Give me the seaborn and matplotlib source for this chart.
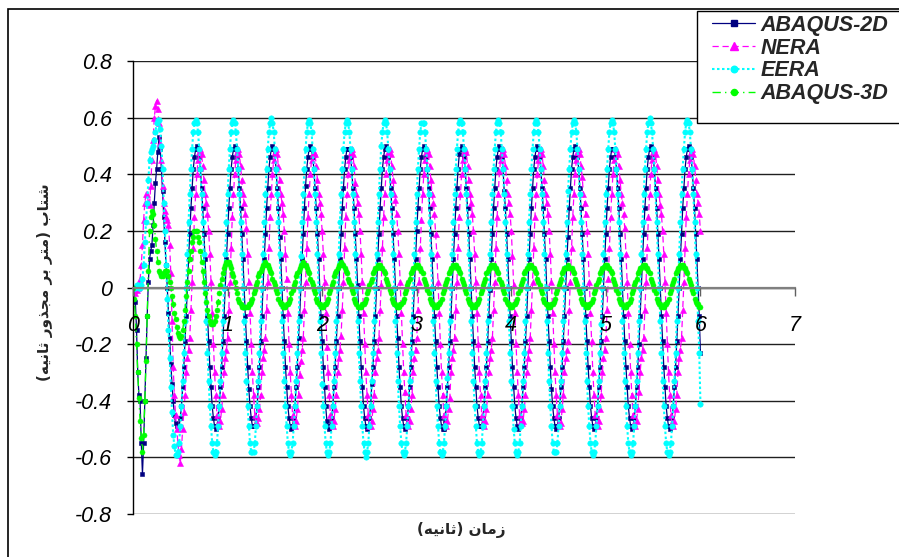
import numpy as np
import matplotlib
matplotlib.use("Agg")
import matplotlib.pyplot as plt
import seaborn as sns
from matplotlib.patches import Rectangle
from matplotlib.lines import Line2D
from matplotlib.font_manager import FontProperties

# ---------------- data ----------------
# sample times (s): 0 .. 6.0 s, step 0.0125 s
time_s = np.round(np.arange(481) * 0.0125, 4)

abaqus_2d = [
    0.00, -0.02, -0.05, -0.15, -0.30, -0.38, -0.40, -0.55, -0.66, -0.55, -0.40, -0.25, -0.10, 0.02, 0.10, 0.13,
    0.15, 0.22, 0.30, 0.37, 0.42, 0.48, 0.53, 0.49, 0.42, 0.34, 0.25, 0.16, 0.08, 0.00, -0.09, -0.18,
    -0.27, -0.34, -0.40, -0.45, -0.48, -0.49, -0.50, -0.49, -0.46, -0.42, -0.35, -0.28, -0.19, -0.10, 0.00, 0.10,
    0.19, 0.28, 0.35, 0.42, 0.46, 0.49, 0.50, 0.49, 0.46, 0.42, 0.35, 0.28, 0.19, 0.10, 0.00, -0.10,
    -0.19, -0.28, -0.35, -0.42, -0.46, -0.49, -0.50, -0.49, -0.46, -0.42, -0.35, -0.28, -0.19, -0.10, 0.00, 0.10,
    0.19, 0.28, 0.35, 0.42, 0.46, 0.49, 0.50, 0.49, 0.46, 0.42, 0.35, 0.28, 0.19, 0.10, 0.00, -0.10,
    -0.19, -0.28, -0.36, -0.42, -0.46, -0.49, -0.49, -0.49, -0.46, -0.42, -0.35, -0.28, -0.19, -0.10, 0.00, 0.10,
    0.19, 0.28, 0.35, 0.42, 0.46, 0.49, 0.50, 0.49, 0.47, 0.42, 0.35, 0.28, 0.18, 0.10, 0.00, -0.10,
    -0.19, -0.28, -0.35, -0.42, -0.46, -0.49, -0.50, -0.49, -0.46, -0.42, -0.35, -0.28, -0.18, -0.10, 0.00, 0.10,
    0.19, 0.28, 0.36, 0.42, 0.46, 0.49, 0.50, 0.49, 0.46, 0.42, 0.35, 0.28, 0.19, 0.10, 0.00, -0.10,
    -0.19, -0.28, -0.35, -0.42, -0.47, -0.49, -0.50, -0.49, -0.46, -0.42, -0.35, -0.28, -0.19, -0.10, 0.00, 0.10,
    0.19, 0.28, 0.35, 0.42, 0.46, 0.49, 0.49, 0.49, 0.46, 0.42, 0.35, 0.28, 0.19, 0.10, 0.01, -0.10,
    -0.19, -0.28, -0.35, -0.42, -0.46, -0.49, -0.50, -0.49, -0.46, -0.42, -0.34, -0.28, -0.19, -0.10, 0.00, 0.10,
    0.19, 0.28, 0.35, 0.42, 0.46, 0.49, 0.50, 0.49, 0.46, 0.42, 0.35, 0.28, 0.19, 0.10, 0.00, -0.10,
    -0.18, -0.28, -0.35, -0.42, -0.46, -0.49, -0.50, -0.49, -0.46, -0.42, -0.35, -0.28, -0.19, -0.10, 0.00, 0.10,
    0.20, 0.28, 0.35, 0.42, 0.46, 0.49, 0.50, 0.49, 0.46, 0.42, 0.35, 0.28, 0.19, 0.10, 0.00, -0.10,
    -0.19, -0.28, -0.35, -0.42, -0.46, -0.49, -0.50, -0.50, -0.47, -0.42, -0.35, -0.28, -0.19, -0.10, 0.00, 0.10,
    0.19, 0.28, 0.35, 0.42, 0.47, 0.49, 0.50, 0.49, 0.46, 0.42, 0.35, 0.28, 0.19, 0.10, 0.00, -0.10,
    -0.19, -0.28, -0.35, -0.42, -0.46, -0.49, -0.49, -0.49, -0.46, -0.42, -0.35, -0.28, -0.19, -0.10, -0.01, 0.10,
    0.19, 0.28, 0.35, 0.42, 0.46, 0.49, 0.50, 0.49, 0.46, 0.42, 0.34, 0.28, 0.19, 0.10, 0.00, -0.10,
    -0.19, -0.28, -0.35, -0.42, -0.46, -0.49, -0.50, -0.49, -0.46, -0.42, -0.35, -0.28, -0.19, -0.10, 0.00, 0.10,
    0.19, 0.28, 0.35, 0.42, 0.46, 0.49, 0.50, 0.49, 0.46, 0.42, 0.35, 0.28, 0.19, 0.10, 0.00, -0.10,
    -0.19, -0.28, -0.36, -0.42, -0.46, -0.49, -0.50, -0.49, -0.46, -0.42, -0.35, -0.28, -0.19, -0.10, 0.00, 0.10,
    0.18, 0.28, 0.35, 0.42, 0.46, 0.49, 0.50, 0.49, 0.46, 0.42, 0.35, 0.28, 0.19, 0.10, 0.00, -0.10,
    -0.19, -0.28, -0.35, -0.42, -0.46, -0.49, -0.50, -0.49, -0.46, -0.42, -0.35, -0.28, -0.19, -0.10, 0.00, 0.10,
    0.19, 0.28, 0.35, 0.42, 0.46, 0.49, 0.49, 0.49, 0.46, 0.42, 0.35, 0.28, 0.19, 0.10, 0.00, -0.10,
    -0.19, -0.28, -0.35, -0.42, -0.46, -0.49, -0.50, -0.49, -0.46, -0.42, -0.35, -0.28, -0.20, -0.10, 0.00, 0.10,
    0.19, 0.28, 0.35, 0.42, 0.46, 0.49, 0.50, 0.49, 0.46, 0.42, 0.35, 0.28, 0.19, 0.10, 0.00, -0.10,
    -0.19, -0.28, -0.35, -0.42, -0.46, -0.49, -0.50, -0.49, -0.46, -0.42, -0.35, -0.28, -0.19, -0.10, 0.00, 0.10,
    0.19, 0.28, 0.35, 0.42, 0.46, 0.49, 0.50, 0.49, 0.46, 0.42, 0.35, 0.28, 0.19, 0.10, 0.00, -0.10,
    -0.23,
]

nera = [
    0.00, -0.01, -0.02, -0.01, 0.00, 0.01, 0.03, 0.08, 0.15, 0.24, 0.30, 0.33, 0.33, 0.30, 0.29, 0.36,
    0.45, 0.52, 0.60, 0.64, 0.66, 0.63, 0.58, 0.51, 0.45, 0.36, 0.30, 0.27, 0.25, 0.24, 0.22, 0.15,
    0.05, -0.12, -0.28, -0.38, -0.45, -0.50, -0.55, -0.59, -0.62, -0.57, -0.50, -0.44, -0.38, -0.30, -0.25, -0.22,
    -0.18, -0.08, 0.02, 0.14, 0.25, 0.33, 0.40, 0.45, 0.48, 0.49, 0.47, 0.43, 0.38, 0.33, 0.30, 0.26,
    0.20, 0.12, 0.02, -0.09, -0.20, -0.30, -0.38, -0.45, -0.48, -0.49, -0.47, -0.43, -0.38, -0.30, -0.25, -0.22,
    -0.18, -0.08, 0.02, 0.14, 0.25, 0.33, 0.40, 0.45, 0.48, 0.49, 0.47, 0.43, 0.38, 0.33, 0.30, 0.26,
    0.21, 0.12, 0.02, -0.09, -0.20, -0.30, -0.38, -0.45, -0.48, -0.48, -0.46, -0.43, -0.38, -0.30, -0.25, -0.22,
    -0.18, -0.08, 0.02, 0.14, 0.25, 0.33, 0.40, 0.45, 0.48, 0.49, 0.47, 0.43, 0.38, 0.33, 0.30, 0.26,
    0.20, 0.12, 0.03, -0.09, -0.20, -0.30, -0.38, -0.45, -0.48, -0.49, -0.47, -0.43, -0.38, -0.31, -0.26, -0.22,
    -0.18, -0.08, 0.02, 0.14, 0.25, 0.33, 0.40, 0.45, 0.47, 0.48, 0.47, 0.43, 0.38, 0.33, 0.30, 0.26,
    0.20, 0.12, 0.02, -0.09, -0.21, -0.30, -0.38, -0.45, -0.48, -0.49, -0.47, -0.43, -0.38, -0.30, -0.25, -0.22,
    -0.17, -0.08, 0.02, 0.14, 0.25, 0.33, 0.40, 0.45, 0.48, 0.49, 0.47, 0.43, 0.37, 0.33, 0.30, 0.26,
    0.20, 0.12, 0.02, -0.09, -0.20, -0.30, -0.38, -0.45, -0.49, -0.49, -0.47, -0.43, -0.38, -0.30, -0.25, -0.22,
    -0.18, -0.08, 0.01, 0.14, 0.25, 0.33, 0.40, 0.45, 0.48, 0.49, 0.47, 0.43, 0.38, 0.33, 0.31, 0.26,
    0.20, 0.12, 0.02, -0.09, -0.20, -0.30, -0.37, -0.45, -0.48, -0.49, -0.47, -0.43, -0.38, -0.30, -0.25, -0.22,
    -0.18, -0.08, 0.02, 0.14, 0.24, 0.33, 0.40, 0.45, 0.48, 0.49, 0.47, 0.43, 0.38, 0.33, 0.30, 0.26,
    0.19, 0.12, 0.02, -0.09, -0.20, -0.30, -0.38, -0.45, -0.48, -0.49, -0.47, -0.43, -0.39, -0.30, -0.25, -0.22,
    -0.18, -0.08, 0.02, 0.14, 0.25, 0.33, 0.40, 0.45, 0.48, 0.49, 0.48, 0.43, 0.38, 0.33, 0.30, 0.26,
    0.20, 0.12, 0.02, -0.09, -0.20, -0.30, -0.38, -0.45, -0.48, -0.49, -0.47, -0.43, -0.38, -0.30, -0.25, -0.22,
    -0.18, -0.08, 0.02, 0.14, 0.25, 0.33, 0.41, 0.45, 0.48, 0.49, 0.47, 0.43, 0.38, 0.33, 0.30, 0.26,
    0.20, 0.11, 0.01, -0.09, -0.20, -0.30, -0.38, -0.45, -0.47, -0.48, -0.47, -0.43, -0.38, -0.30, -0.25, -0.22,
    -0.18, -0.08, 0.02, 0.14, 0.25, 0.33, 0.40, 0.45, 0.48, 0.49, 0.47, 0.43, 0.38, 0.33, 0.30, 0.26,
    0.20, 0.12, 0.02, -0.09, -0.20, -0.30, -0.38, -0.45, -0.48, -0.49, -0.48, -0.43, -0.38, -0.30, -0.25, -0.22,
    -0.19, -0.08, 0.02, 0.14, 0.25, 0.33, 0.40, 0.45, 0.48, 0.49, 0.47, 0.43, 0.39, 0.33, 0.30, 0.26,
    0.20, 0.12, 0.02, -0.09, -0.19, -0.30, -0.38, -0.45, -0.48, -0.49, -0.47, -0.43, -0.38, -0.30, -0.25, -0.22,
    -0.18, -0.08, 0.03, 0.14, 0.25, 0.33, 0.40, 0.45, 0.49, 0.49, 0.47, 0.43, 0.38, 0.33, 0.30, 0.26,
    0.21, 0.12, 0.02, -0.09, -0.20, -0.30, -0.38, -0.45, -0.48, -0.49, -0.47, -0.43, -0.37, -0.30, -0.25, -0.22,
    -0.18, -0.08, 0.02, 0.14, 0.25, 0.33, 0.40, 0.45, 0.48, 0.49, 0.47, 0.43, 0.38, 0.33, 0.29, 0.26,
    0.20, 0.12, 0.02, -0.09, -0.20, -0.30, -0.38, -0.45, -0.48, -0.49, -0.47, -0.43, -0.38, -0.30, -0.25, -0.22,
    -0.18, -0.08, 0.02, 0.14, 0.25, 0.33, 0.40, 0.45, 0.48, 0.49, 0.47, 0.43, 0.38, 0.33, 0.30, 0.26,
    0.20,
]

eera = [
    0.00, 0.00, 0.00, 0.01, 0.01, 0.00, 0.00, 0.01, 0.03, 0.08, 0.16, 0.23, 0.30, 0.38, 0.45, 0.48,
    0.49, 0.50, 0.52, 0.55, 0.58, 0.59, 0.59, 0.56, 0.50, 0.42, 0.30, 0.20, 0.08, -0.04, -0.15, -0.25,
    -0.35, -0.44, -0.52, -0.56, -0.59, -0.59, -0.58, -0.55, -0.49, -0.42, -0.33, -0.23, -0.12, 0.00, 0.12, 0.23,
    0.33, 0.42, 0.49, 0.55, 0.58, 0.59, 0.58, 0.55, 0.49, 0.42, 0.33, 0.23, 0.12, 0.00, -0.12, -0.23,
    -0.33, -0.42, -0.49, -0.55, -0.58, -0.59, -0.58, -0.55, -0.49, -0.42, -0.33, -0.23, -0.12, 0.00, 0.12, 0.23,
    0.33, 0.42, 0.49, 0.55, 0.58, 0.59, 0.58, 0.55, 0.49, 0.42, 0.33, 0.23, 0.12, 0.00, -0.12, -0.23,
    -0.33, -0.42, -0.49, -0.55, -0.58, -0.58, -0.58, -0.55, -0.49, -0.42, -0.33, -0.23, -0.12, 0.00, 0.12, 0.23,
    0.33, 0.42, 0.49, 0.55, 0.58, 0.60, 0.58, 0.55, 0.49, 0.42, 0.33, 0.23, 0.12, 0.00, -0.12, -0.23,
    -0.33, -0.42, -0.49, -0.55, -0.58, -0.59, -0.58, -0.55, -0.49, -0.42, -0.33, -0.23, -0.12, 0.00, 0.11, 0.23,
    0.33, 0.42, 0.49, 0.55, 0.58, 0.59, 0.58, 0.55, 0.49, 0.42, 0.33, 0.23, 0.12, 0.00, -0.12, -0.23,
    -0.34, -0.42, -0.49, -0.55, -0.58, -0.59, -0.58, -0.55, -0.49, -0.42, -0.33, -0.23, -0.12, 0.00, 0.12, 0.23,
    0.33, 0.42, 0.49, 0.55, 0.58, 0.59, 0.58, 0.55, 0.49, 0.42, 0.33, 0.23, 0.12, 0.00, -0.12, -0.23,
    -0.33, -0.42, -0.49, -0.55, -0.58, -0.60, -0.58, -0.55, -0.49, -0.42, -0.33, -0.23, -0.12, 0.00, 0.12, 0.23,
    0.33, 0.42, 0.50, 0.55, 0.58, 0.59, 0.58, 0.55, 0.49, 0.42, 0.33, 0.23, 0.12, 0.00, -0.12, -0.23,
    -0.33, -0.42, -0.49, -0.55, -0.58, -0.59, -0.58, -0.55, -0.49, -0.42, -0.33, -0.23, -0.12, 0.00, 0.12, 0.23,
    0.33, 0.42, 0.49, 0.55, 0.58, 0.58, 0.58, 0.55, 0.49, 0.42, 0.33, 0.23, 0.12, 0.00, -0.12, -0.23,
    -0.33, -0.42, -0.49, -0.55, -0.58, -0.59, -0.58, -0.55, -0.49, -0.42, -0.32, -0.23, -0.12, 0.00, 0.12, 0.23,
    0.33, 0.42, 0.49, 0.55, 0.58, 0.59, 0.58, 0.55, 0.49, 0.42, 0.33, 0.23, 0.12, 0.00, -0.12, -0.23,
    -0.33, -0.42, -0.49, -0.55, -0.58, -0.59, -0.58, -0.55, -0.49, -0.42, -0.33, -0.23, -0.12, 0.00, 0.12, 0.23,
    0.33, 0.42, 0.49, 0.55, 0.58, 0.59, 0.58, 0.55, 0.49, 0.42, 0.33, 0.23, 0.12, 0.00, -0.12, -0.23,
    -0.33, -0.42, -0.50, -0.55, -0.58, -0.59, -0.58, -0.55, -0.49, -0.42, -0.33, -0.23, -0.12, 0.00, 0.12, 0.23,
    0.33, 0.42, 0.49, 0.55, 0.58, 0.59, 0.58, 0.55, 0.49, 0.42, 0.33, 0.23, 0.12, 0.00, -0.12, -0.23,
    -0.33, -0.42, -0.49, -0.55, -0.58, -0.58, -0.58, -0.55, -0.49, -0.42, -0.33, -0.23, -0.12, 0.00, 0.12, 0.23,
    0.34, 0.42, 0.49, 0.55, 0.58, 0.59, 0.58, 0.55, 0.49, 0.42, 0.33, 0.23, 0.12, 0.00, -0.12, -0.23,
    -0.33, -0.42, -0.49, -0.55, -0.58, -0.59, -0.58, -0.55, -0.49, -0.42, -0.33, -0.23, -0.13, 0.00, 0.12, 0.23,
    0.33, 0.42, 0.49, 0.55, 0.58, 0.59, 0.58, 0.55, 0.49, 0.42, 0.33, 0.23, 0.12, 0.00, -0.12, -0.23,
    -0.33, -0.42, -0.49, -0.55, -0.58, -0.59, -0.58, -0.55, -0.49, -0.42, -0.33, -0.23, -0.12, 0.00, 0.12, 0.23,
    0.33, 0.42, 0.49, 0.55, 0.58, 0.60, 0.58, 0.55, 0.49, 0.42, 0.33, 0.23, 0.12, 0.00, -0.12, -0.23,
    -0.33, -0.42, -0.49, -0.55, -0.58, -0.59, -0.58, -0.55, -0.49, -0.42, -0.33, -0.23, -0.12, 0.00, 0.12, 0.23,
    0.33, 0.42, 0.49, 0.55, 0.58, 0.59, 0.58, 0.55, 0.49, 0.42, 0.33, 0.23, 0.12, 0.00, -0.12, -0.23,
    -0.41,
]

abaqus_3d = [
    0.00, -0.04, -0.10, -0.20, -0.30, -0.39, -0.47, -0.53, -0.58, -0.52, -0.40, -0.26, -0.10, 0.06, 0.20, 0.25,
    0.27, 0.26, 0.22, 0.17, 0.13, 0.09, 0.06, 0.05, 0.04, 0.04, 0.05, 0.06, 0.06, 0.06, 0.04, 0.02,
    0.00, -0.03, -0.06, -0.09, -0.11, -0.14, -0.16, -0.17, -0.18, -0.17, -0.15, -0.12, -0.08, -0.03, 0.02, 0.06,
    0.10, 0.13, 0.16, 0.18, 0.20, 0.20, 0.20, 0.18, 0.16, 0.13, 0.09, 0.06, 0.02, -0.02, -0.05, -0.08,
    -0.10, -0.12, -0.13, -0.13, -0.13, -0.12, -0.10, -0.08, -0.05, -0.02, 0.01, 0.03, 0.05, 0.07, 0.08, 0.09,
    0.09, 0.09, 0.08, 0.07, 0.05, 0.04, 0.02, 0.00, -0.02, -0.04, -0.05, -0.06, -0.07, -0.07, -0.07, -0.07,
    -0.07, -0.07, -0.06, -0.06, -0.05, -0.04, -0.02, -0.01, 0.01, 0.02, 0.04, 0.05, 0.06, 0.07, 0.08, 0.08,
    0.09, 0.08, 0.08, 0.07, 0.06, 0.05, 0.03, 0.02, 0.01, -0.01, -0.02, -0.04, -0.05, -0.06, -0.06, -0.07,
    -0.07, -0.07, -0.06, -0.06, -0.05, -0.04, -0.02, -0.01, 0.01, 0.02, 0.04, 0.05, 0.06, 0.07, 0.08, 0.08,
    0.09, 0.08, 0.08, 0.07, 0.06, 0.05, 0.03, 0.02, 0.01, -0.01, -0.02, -0.04, -0.05, -0.06, -0.06, -0.07,
    -0.07, -0.07, -0.06, -0.06, -0.05, -0.04, -0.02, -0.01, 0.01, 0.02, 0.04, 0.05, 0.06, 0.07, 0.08, 0.08,
    0.09, 0.08, 0.08, 0.07, 0.06, 0.05, 0.03, 0.02, 0.01, -0.01, -0.02, -0.04, -0.05, -0.06, -0.07, -0.07,
    -0.07, -0.07, -0.06, -0.06, -0.05, -0.04, -0.02, -0.01, 0.01, 0.02, 0.03, 0.05, 0.06, 0.07, 0.07, 0.08,
    0.08, 0.08, 0.07, 0.07, 0.06, 0.05, 0.03, 0.02, 0.01, -0.01, -0.02, -0.04, -0.05, -0.06, -0.06, -0.07,
    -0.07, -0.07, -0.06, -0.06, -0.05, -0.04, -0.02, -0.01, 0.01, 0.02, 0.03, 0.05, 0.06, 0.07, 0.07, 0.08,
    0.08, 0.08, 0.07, 0.07, 0.06, 0.05, 0.03, 0.02, 0.01, -0.01, -0.02, -0.04, -0.05, -0.06, -0.06, -0.07,
    -0.07, -0.07, -0.06, -0.06, -0.05, -0.04, -0.02, -0.01, 0.01, 0.02, 0.03, 0.05, 0.06, 0.07, 0.07, 0.08,
    0.08, 0.08, 0.07, 0.07, 0.06, 0.05, 0.03, 0.02, 0.01, -0.01, -0.02, -0.04, -0.05, -0.06, -0.06, -0.07,
    -0.07, -0.07, -0.06, -0.06, -0.05, -0.04, -0.02, -0.01, 0.01, 0.02, 0.03, 0.05, 0.06, 0.07, 0.07, 0.08,
    0.08, 0.08, 0.07, 0.07, 0.06, 0.05, 0.03, 0.02, 0.01, -0.01, -0.02, -0.04, -0.05, -0.06, -0.06, -0.07,
    -0.07, -0.07, -0.06, -0.06, -0.05, -0.04, -0.02, -0.01, 0.01, 0.02, 0.03, 0.05, 0.06, 0.07, 0.07, 0.08,
    0.08, 0.08, 0.07, 0.07, 0.06, 0.05, 0.03, 0.02, 0.01, -0.01, -0.02, -0.04, -0.05, -0.06, -0.06, -0.07,
    -0.07, -0.07, -0.06, -0.06, -0.05, -0.04, -0.02, -0.01, 0.01, 0.02, 0.03, 0.05, 0.06, 0.07, 0.07, 0.07,
    0.08, 0.07, 0.07, 0.07, 0.06, 0.05, 0.03, 0.02, 0.01, -0.01, -0.02, -0.04, -0.05, -0.06, -0.06, -0.07,
    -0.07, -0.07, -0.06, -0.06, -0.05, -0.04, -0.02, -0.01, 0.01, 0.02, 0.03, 0.05, 0.06, 0.07, 0.07, 0.08,
    0.08, 0.08, 0.07, 0.07, 0.06, 0.05, 0.03, 0.02, 0.01, -0.01, -0.02, -0.04, -0.05, -0.06, -0.06, -0.07,
    -0.07, -0.07, -0.06, -0.06, -0.05, -0.04, -0.02, -0.01, 0.01, 0.02, 0.03, 0.05, 0.06, 0.07, 0.07, 0.08,
    0.08, 0.08, 0.07, 0.07, 0.06, 0.05, 0.03, 0.02, 0.01, -0.01, -0.02, -0.04, -0.05, -0.06, -0.06, -0.07,
    -0.07, -0.07, -0.06, -0.06, -0.05, -0.04, -0.02, -0.01, 0.01, 0.02, 0.03, 0.05, 0.06, 0.07, 0.07, 0.08,
    0.08, 0.08, 0.07, 0.07, 0.06, 0.05, 0.03, 0.02, 0.01, -0.01, -0.02, -0.04, -0.05, -0.06, -0.06, -0.07,
    -0.07,
]

series_names = ["ABAQUS-2D", "NERA", "EERA", "ABAQUS-3D"]
x_ticks = [0, 1, 2, 3, 4, 5, 6, 7]
x_tick_labels = ["0", "1", "2", "3", "4", "5", "6", "7"]
y_ticks = [-0.8, -0.6, -0.4, -0.2, 0.0, 0.2, 0.4, 0.6, 0.8]
y_tick_labels = ["-0.8", "-0.6", "-0.4", "-0.2", "0", "0.2", "0.4", "0.6", "0.8"]
x_label = "زمان (ثانیه)"
y_label = "شتاب (متر بر مجذور ثانیه)"

# ------------- minimal Arabic-script shaping (matplotlib has no RTL shaping) -------------
AR_FORMS = {
    '\u0627': (0xFE8D, 0xFE8E),
    '\u0628': (0xFE8F, 0xFE90, 0xFE91, 0xFE92),
    '\u062A': (0xFE95, 0xFE96, 0xFE97, 0xFE98),
    '\u062B': (0xFE99, 0xFE9A, 0xFE9B, 0xFE9C),
    '\u062C': (0xFE9D, 0xFE9E, 0xFE9F, 0xFEA0),
    '\u0630': (0xFEAB, 0xFEAC),
    '\u0631': (0xFEAD, 0xFEAE),
    '\u0632': (0xFEAF, 0xFEB0),
    '\u0634': (0xFEB5, 0xFEB6, 0xFEB7, 0xFEB8),
    '\u0645': (0xFEE1, 0xFEE2, 0xFEE3, 0xFEE4),
    '\u0646': (0xFEE5, 0xFEE6, 0xFEE7, 0xFEE8),
    '\u0647': (0xFEE9, 0xFEEA, 0xFEEB, 0xFEEC),
    '\u0648': (0xFEED, 0xFEEE),
    '\u06CC': (0xFEF1, 0xFEF2, 0xFEF3, 0xFEF4),
}


def shape_rtl(text):
    out = []
    n = len(text)
    for i, ch in enumerate(text):
        f = AR_FORMS.get(ch)
        if f is None:
            out.append(ch)
            continue
        prev = text[i - 1] if i > 0 else ''
        nxt = text[i + 1] if i + 1 < n else ''
        jp = prev in AR_FORMS and len(AR_FORMS[prev]) == 4
        jn = len(f) == 4 and nxt in AR_FORMS
        if jp and jn:
            code = f[3]
        elif jp:
            code = f[1]
        elif jn:
            code = f[2]
        else:
            code = f[0]
        out.append(chr(code))
    mirror = {'(': ')', ')': '('}
    return ''.join(mirror.get(c, c) for c in reversed(out))


# ---------------- figure ----------------
sns.set_theme(style="white")
plt.rcParams['font.family'] = ['Liberation Sans', 'DejaVu Sans']
plt.rcParams['axes.unicode_minus'] = False

W, H = 899, 557
fig = plt.figure(figsize=(W / 100, H / 100), dpi=100)
fig.patch.set_facecolor('white')
ax = fig.add_axes([133 / W, 1 - 514 / H, (795 - 133) / W, (514 - 61) / H])
ax.set_facecolor('white')

# spines first (set_position resets tick properties)
for s in ("top", "right"):
    ax.spines[s].set_visible(False)
ax.spines["bottom"].set_position(("data", 0))
ax.spines["bottom"].set_color("#808080")
ax.spines["bottom"].set_linewidth(1.6)
ax.spines["left"].set_color("black")
ax.spines["left"].set_linewidth(1.0)

styles = [
    dict(color="#000080", linestyle="-", marker="s", markersize=3.2, linewidth=0.9),
    dict(color="#FF00FF", linestyle=(0, (5, 3)), marker="^", markersize=4.4, linewidth=0.9),
    dict(color="#00FFFF", linestyle=(0, (1.2, 1.2)), marker="o", markersize=3.9, linewidth=1.5),
    dict(color="#00FF00", linestyle=(0, (6, 3, 1, 3)), marker="o", markersize=3.6, linewidth=1.0),
]
values = [abaqus_2d, nera, eera, abaqus_3d]

for i, (name, vals, st) in enumerate(zip(series_names, values, styles)):
    assert len(vals) == len(time_s), (name, len(vals))
    sns.lineplot(x=time_s, y=vals, ax=ax, color=st["color"], linestyle=st["linestyle"],
                 marker=st["marker"], markersize=st["markersize"], linewidth=st["linewidth"],
                 markeredgecolor=st["color"], markeredgewidth=0.4, markerfacecolor=st["color"],
                 sort=False, estimator=None, legend=False, zorder=2 + i * 0.1)

ax.set_xlim(0, 7)
ax.set_ylim(-0.8, 0.8)
ax.set_xlabel("")
ax.set_ylabel("")

ax.tick_params(axis='x', direction='out', length=6, width=1.0, color='#606060',
               pad=13.5, labelcolor='black', bottom=True)
ax.tick_params(axis='y', direction='out', length=4.3, width=1.0, color='black',
               pad=11, labelcolor='black', left=True)
ax.set_xticks(x_ticks)
ax.set_xticklabels(x_tick_labels, fontstyle='italic', fontsize=15.5)
ax.set_yticks(y_ticks)
ax.set_yticklabels(y_tick_labels, fontstyle='italic', fontsize=15.5)

ax.yaxis.grid(True, color='#202020', linewidth=1.0)
ax.xaxis.grid(False)
ax.yaxis.set_zorder(1.0)
ax.xaxis.set_zorder(3.0)

# axis titles (Persian)
fig.text(461 / W, 1 - 530 / H, shape_rtl(x_label), ha='center', va='center',
         fontsize=11, fontweight='bold', family=['DejaVu Sans'])
fig.text(45 / W, 1 - 282 / H, shape_rtl(y_label), ha='center', va='center', rotation=90,
         fontsize=11, fontweight='bold', family=['DejaVu Sans'])

# chart-area border (runs off the right/bottom edges as in the reference)
fig.patches.append(Rectangle((8 / W, -0.1), 1.2, (1 - 9 / H) + 0.1, transform=fig.transFigure,
                             fill=False, edgecolor='black', linewidth=1.2, zorder=1))

# legend frame + legend
fig.patches.append(Rectangle((697 / W, 1 - 123 / H), 0.4, 112 / H, transform=fig.transFigure,
                             facecolor='white', edgecolor='black', linewidth=1.0, zorder=3))
handles = [Line2D([0], [0], color=st["color"], linestyle=st["linestyle"], marker=st["marker"],
                  markersize=st["markersize"] + 0.8, linewidth=st["linewidth"],
                  markeredgecolor=st["color"], markerfacecolor=st["color"])
           for st in styles]
leg_font = FontProperties(family='Liberation Sans', weight='bold', style='italic', size=15.5)
fs_px = 15.5 * 100 / 72
fig.legend(handles, series_names, loc='upper left',
           bbox_to_anchor=((712 - 0.2 * fs_px) / W, 1 - 10.3 / H), bbox_transform=fig.transFigure,
           frameon=False, prop=leg_font, handlelength=2.0, handletextpad=0.25,
           labelspacing=0.09, borderpad=0.2, borderaxespad=0.0, numpoints=1)

fig.savefig("out.png", dpi=100, facecolor='white')
